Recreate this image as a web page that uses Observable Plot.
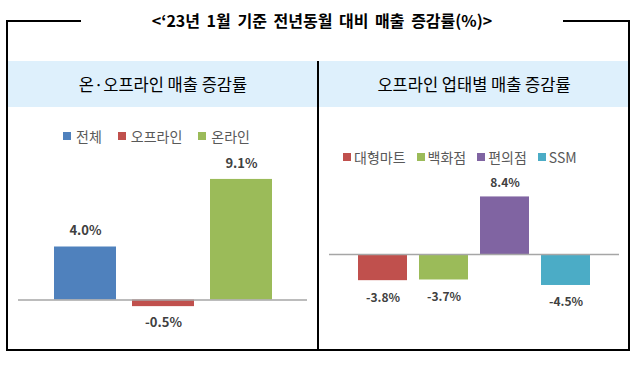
<!DOCTYPE html>
<html><head><meta charset="utf-8">
<script src="https://cdn.jsdelivr.net/npm/d3@7"></script>
<script src="https://cdn.jsdelivr.net/npm/@observablehq/plot@0.6"></script>
<style>
body{margin:0;background:#fff;font-family:"Noto Sans CJK KR","Noto Sans",sans-serif;}
#root{position:relative;width:643px;height:366px;overflow:hidden;background:#fff;}
.abs{position:absolute;}
.line{position:absolute;background:#000;}
.legend{position:absolute;display:flex;align-items:center;font-size:14px;color:#595959;line-height:20px;white-space:nowrap;}
.legend .sw{display:inline-block;width:8px;height:8px;}
.hdr{position:absolute;top:61px;height:46px;line-height:46px;text-align:center;font-size:16.5px;color:#000;}
</style></head><body><div id="root"></div>
<script>
const title = "<‘23년 1월 기준 전년동월 대비 매출 증감률(%)>";
const leftHeader = "온·오프라인 매출 증감률";
const rightHeader = "오프라인 업태별 매출 증감률";

const leftCategories = ["전체", "오프라인", "온라인"];
const leftValues = [4.0, -0.5, 9.1];
const leftColors = ["#4F81BD", "#C0504D", "#9BBB59"];

const rightCategories = ["대형마트", "백화점", "편의점", "SSM"];
const rightValues = [-3.8, -3.7, 8.4, -4.5];
const rightColors = ["#C0504D", "#9BBB59", "#8064A2", "#4BACC6"];

const root = document.getElementById("root");
function el(tag, cls, css, text) {
  const e = document.createElement(tag);
  if (cls) e.className = cls;
  if (css) e.style.cssText = css;
  if (text != null) e.textContent = text;
  root.appendChild(e);
  return e;
}

// header band
el("div", "abs", "left:8px;top:61px;width:620px;height:46px;background:#DEF0FC;");
// frame
el("div", "line", "left:7px;top:20px;width:74px;height:2px;");
el("div", "line", "left:563px;top:20px;width:67px;height:2px;");
el("div", "line", "left:6px;top:20px;width:2px;height:331px;");
el("div", "line", "left:628px;top:20px;width:2px;height:331px;");
el("div", "line", "left:6px;top:349px;width:624px;height:2px;");
el("div", "line", "left:317px;top:61px;width:2px;height:289px;");

// title
el("div", "abs", "left:81px;width:482px;top:8px;height:24px;line-height:24px;text-align:center;font-size:16px;font-weight:bold;word-spacing:3px;color:#000;", title);

// headers
el("div", "hdr", "left:8px;width:310px;", leftHeader);
el("div", "hdr", "left:319px;width:310px;", rightHeader);

function legend(cats, colors, css, swGap, itemGap) {
  const d = el("div", "legend", css);
  cats.forEach((c, i) => {
    const sw = document.createElement("span");
    sw.className = "sw";
    sw.style.background = colors[i];
    sw.style.marginRight = swGap + "px";
    d.appendChild(sw);
    const t = document.createElement("span");
    t.textContent = c;
    if (i < cats.length - 1) t.style.marginRight = itemGap + "px";
    d.appendChild(t);
  });
}
legend(leftCategories, leftColors, "left:63px;top:126px;", 5, 16);
legend(rightCategories, rightColors, "left:343px;top:147px;", 3, 11);

function barChart(cats, vals, colors, o) {
  const data = cats.map((c, i) => ({cat: c, value: vals[i]}));
  const fmt = d => d.value.toFixed(1) + "%";
  return Plot.plot({
    width: 310, height: 243,
    marginLeft: 10, marginRight: o.mr, marginTop: o.mt, marginBottom: o.mb,
    x: {domain: cats, axis: null, paddingInner: o.pi, paddingOuter: o.po},
    y: {domain: o.yd, axis: null},
    color: {domain: cats, range: colors},
    style: {background: "transparent", overflow: "visible", fontFamily: "'Noto Sans CJK KR', sans-serif"},
    marks: [
      Plot.barY(data, {x: "cat", y: "value", fill: "cat"}),
      Plot.ruleY([0], {stroke: "#A6A6A6", strokeWidth: 1.5}),
      Plot.text(data.filter(d => d.value >= 0), {x: "cat", y: "value", text: fmt, dy: -o.up, fontWeight: "bold", fontSize: o.fs, fill: "#404040"}),
      Plot.text(data.filter(d => d.value < 0), {x: "cat", y: "value", text: fmt, dy: o.down, fontWeight: "bold", fontSize: o.fs, fill: "#404040"})
    ]
  });
}

const left = barChart(leftCategories, leftValues, leftColors,
  {mr: 11, mt: 60, mb: 24, pi: 0.21, po: 0.45, yd: [-2, 10], up: 16, down: 16, fs: 13});
left.style.position = "absolute"; left.style.left = "8px"; left.style.top = "107px";
root.appendChild(left);

const right = barChart(rightCategories, rightValues, rightColors,
  {mr: 10, mt: 51, mb: 41, pi: 0.2, po: 0.44, yd: [-8, 14], up: 14, down: 17, fs: 12});
right.style.position = "absolute"; right.style.left = "319px"; right.style.top = "107px";
root.appendChild(right);
</script></body></html>
